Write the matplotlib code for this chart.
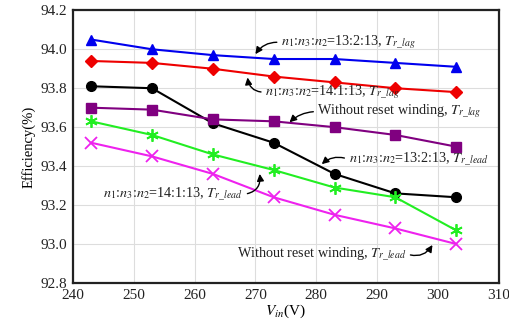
import matplotlib
matplotlib.use("Agg")
import matplotlib.pyplot as plt

plt.rcParams['font.family'] = ['Liberation Serif', 'DejaVu Serif']
plt.rcParams['mathtext.fontset'] = 'stix'

# --- data ---
vin = [243, 253, 263, 273, 283, 293, 303]
eff_1323_lag = [94.05, 94.00, 93.97, 93.95, 93.95, 93.93, 93.91]
eff_14113_lag = [93.94, 93.93, 93.90, 93.86, 93.83, 93.80, 93.78]
eff_1323_lead = [93.81, 93.80, 93.62, 93.52, 93.36, 93.26, 93.24]
eff_noreset_lag = [93.70, 93.69, 93.64, 93.63, 93.60, 93.56, 93.50]
eff_14113_lead = [93.63, 93.56, 93.46, 93.38, 93.29, 93.24, 93.07]
eff_noreset_lead = [93.52, 93.45, 93.36, 93.24, 93.15, 93.08, 93.00]

xticks = [240, 250, 260, 270, 280, 290, 300, 310]
yticks = [92.8, 93.0, 93.2, 93.4, 93.6, 93.8, 94.0, 94.2]

fig = plt.figure(figsize=(5.10, 3.23), dpi=100)
ax = fig.add_axes([0.143, 0.124, 0.835, 0.844])

lw = 1.5
ax.plot(vin, eff_1323_lag, color='#0000ee', marker='^', ms=7.5, lw=lw, zorder=3)
ax.plot(vin, eff_14113_lag, color='#ee0000', marker='D', ms=6, lw=lw, zorder=3)
ax.plot(vin, eff_1323_lead, color='black', marker='o', ms=7, lw=lw, zorder=3)
ax.plot(vin, eff_noreset_lag, color='#800080', marker='s', ms=7, lw=lw, zorder=3)
ax.plot(vin, eff_14113_lead, color='#22ee22', marker=(6, 2, 0), ms=9, mew=1.3, lw=lw, zorder=3)
ax.plot(vin, eff_noreset_lead, color='#ee22ee', marker='x', ms=8, mew=1.3, lw=lw, zorder=3)

ax.set_xlim(240, 310)
ax.set_ylim(92.8, 94.2)
ax.set_xticks(xticks)
ax.set_yticks(yticks)
ax.set_yticklabels(['%.1f' % v for v in yticks])
ax.tick_params(length=0, labelsize=11, pad=4, colors='#222222')
ax.grid(True, color='#dddddd', lw=0.8)
for s in ax.spines.values():
    s.set_linewidth(1.6)
    s.set_color('#222222')

ax.set_xlabel(r'$V_{in}$(V)', fontsize=11, labelpad=1)
ax.set_ylabel('Efficiency(%)', fontsize=10.5, labelpad=4)

fs = 10.2
def note(txt, xy, xytext, ha, rad):
    relx = 0 if ha == 'left' else 1
    ax.annotate(txt, xy=xy, xytext=xytext, ha=ha, va='center', fontsize=fs,
                color='#222222', zorder=5,
                arrowprops=dict(arrowstyle='-|>,head_length=0.4,head_width=0.2',
                                color='black', lw=1.0, relpos=(relx, 0.5),
                                shrinkA=1, shrinkB=0,
                                connectionstyle='arc3,rad=%s' % rad))

note(r'$n_1$:$n_3$:$n_2$=13:2:13, $T_{r\_lag}$', (270.0, 93.975), (274.2, 94.035), 'left', 0.3)
note(r'$n_1$:$n_3$:$n_2$=14:1:13, $T_{r\_lag}$', (268.7, 93.855), (271.6, 93.78), 'left', -0.45)
note(r'Without reset winding, $T_{r\_lag}$', (275.6, 93.625), (280.2, 93.68), 'left', 0.2)
note(r'$n_1$:$n_3$:$n_2$=13:2:13, $T_{r\_lead}$', (280.9, 93.41), (285.3, 93.435), 'left', 0.3)
note(r'$n_1$:$n_3$:$n_2$=14:1:13, $T_{r\_lead}$', (270.7, 93.36), (268.0, 93.255), 'right', 0.5)
note(r'Without reset winding, $T_{r\_lead}$', (299.1, 92.995), (294.8, 92.95), 'right', 0.4)

fig.savefig('out.png', dpi=100)
